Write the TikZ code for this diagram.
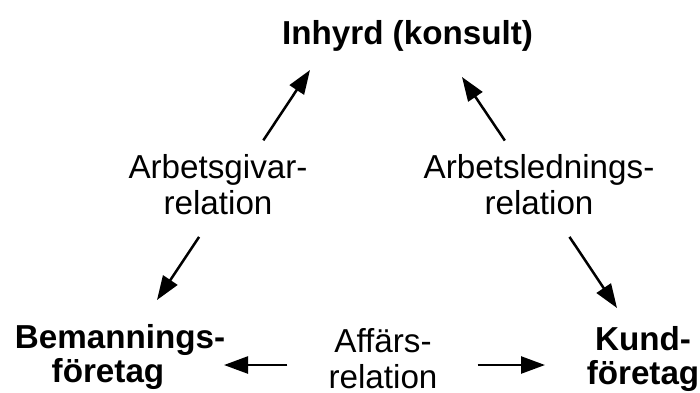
\documentclass[tikz,border=0pt]{standalone}
\usepackage{fontspec}
\setmainfont{Liberation Sans}
\usetikzlibrary{arrows.meta}

\begin{document}
\begin{tikzpicture}[
  x=1pt,y=-1pt,
  font=\fontsize{33.2}{35.5}\selectfont,
  party/.style={font=\fontsize{33.2}{34}\selectfont\bfseries,inner sep=0pt},
  relation/.style={inner sep=0pt},
  to/.style={-{Triangle[length=24pt,width=17pt]},line width=2.5pt},
  every node/.style={align=center}]

  \useasboundingbox (0,0) rectangle (700,392);

  % The three parties
  \node[party,anchor=base] (inhyrd) at (407.5,44) {Inhyrd (konsult)};
  \node[party] (beman) at (120,356.5) {Bemannings-\\företag\hspace*{24pt}};
  \node[party] (kund) at (643,358.5) {Kund-\\företag};

  % The relations between them
  \node[relation] (agivar) at (218,184.5) {Arbetsgivar-\\relation};
  \node[relation] (aledn) at (539,184.5) {Arbetslednings-\\relation};
  \node[relation] (affar) at (383,358.5) {Affärs-\\relation};

  % Where the arrow heads end
  \coordinate (tipIL) at (310,70);
  \coordinate (tipIR) at (462,77);
  \coordinate (tipBU) at (157,300);
  \coordinate (tipKU) at (617,308);
  \coordinate (tipBL) at (224,365);
  \coordinate (tipKL) at (545,365);

  % Draw the arrows out from each relation
  \draw[to,shorten <=53pt] ([xshift=16pt]agivar.center) -- (tipIL);
  \draw[to,shorten <=63pt] ([xshift=16pt]agivar.center) -- (tipBU);
  \draw[to,shorten <=53pt] ([xshift=-4.5pt]aledn.center) -- (tipIR);
  \draw[to,shorten <=63pt] ([xshift=-4.5pt]aledn.center) -- (tipKU);
  \draw[to,shorten <=41pt] (affar.west |- tipBL) -- (tipBL);
  \draw[to,shorten <=40pt] (affar.east |- tipKL) -- (tipKL);
\end{tikzpicture}
\end{document}
